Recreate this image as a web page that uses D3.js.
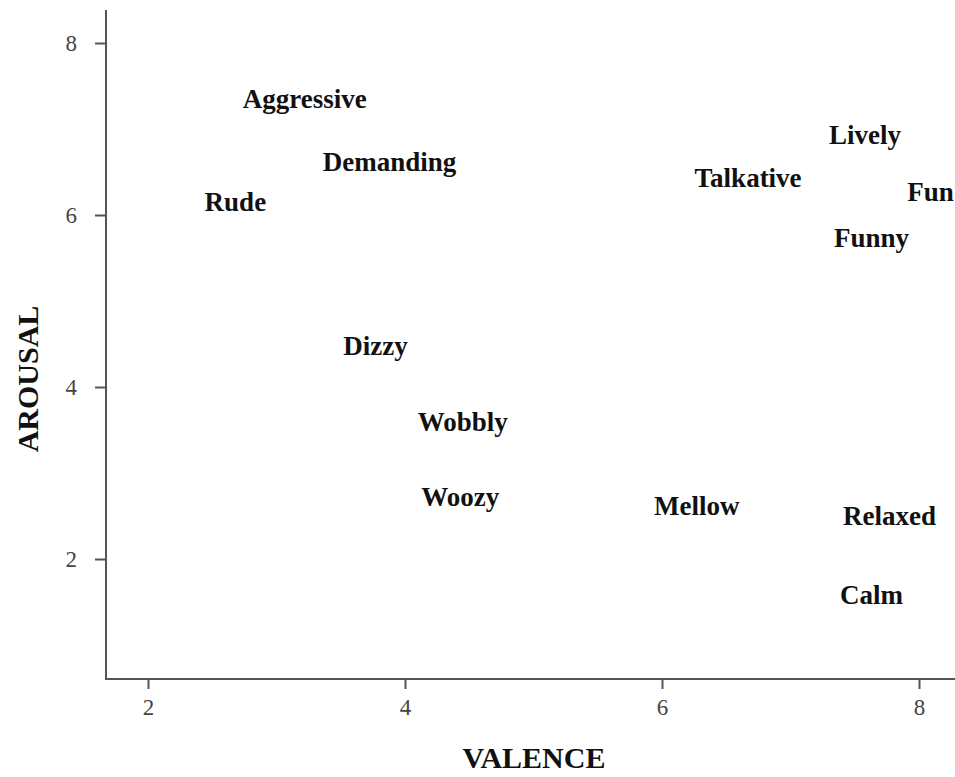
<!DOCTYPE html>
<html>
<head>
<meta charset="utf-8">
<script src="https://cdn.jsdelivr.net/npm/d3@7"></script>
<style>
  body { margin: 0; background: #fff; }
  text { font-family: "Liberation Serif", "Times New Roman", serif; }
</style>
</head>
<body>
<svg></svg>
<script>
const words = ['Aggressive', 'Demanding', 'Rude', 'Talkative', 'Lively', 'Fun', 'Funny',
  'Dizzy', 'Wobbly', 'Woozy', 'Mellow', 'Relaxed', 'Calm']
const valence = [3.22, 3.88, 2.68, 6.67, 7.58, 8.09, 7.63, 3.77, 4.45, 4.43, 6.27, 7.77, 7.63]
const arousal = [7.35, 6.62, 6.16, 6.44, 6.94, 6.27, 5.74, 4.48, 3.60, 2.73, 2.62, 2.50, 1.59]
const xTicks = [2, 4, 6, 8]
const yTicks = [2, 4, 6, 8]

const width = 955
const height = 777
const svg = d3.select('svg')
  .attr('width', width)
  .attr('height', height)

const x = d3.scaleLinear()
  .domain([2, 8])
  .range([148, 919])

const y = d3.scaleLinear()
  .domain([2, 8])
  .range([559, 43])

const axisColor = '#555'

// y axis
const yAxis = svg.append('g')
  .attr('transform', 'translate(106,0)')
  .call(d3.axisLeft(y).tickValues(yTicks).tickSize(11).tickPadding(18).tickFormat(d3.format('d')))
yAxis.select('.domain').remove()
yAxis.append('line')
  .attr('x1', 0).attr('x2', 0)
  .attr('y1', 10).attr('y2', 680)
  .attr('stroke', axisColor).attr('stroke-width', 2)

// x axis
const xAxis = svg.append('g')
  .attr('transform', 'translate(0,679)')
  .call(d3.axisBottom(x).tickValues(xTicks).tickSize(10).tickPadding(10).tickFormat(d3.format('d')))
xAxis.select('.domain').remove()
xAxis.append('line')
  .attr('x1', 105).attr('x2', width)
  .attr('y1', 0).attr('y2', 0)
  .attr('stroke', axisColor).attr('stroke-width', 2)

svg.selectAll('.tick line')
  .attr('stroke', axisColor).attr('stroke-width', 2)
svg.selectAll('.tick text')
  .attr('fill', '#444')
  .style('font-size', '23px')
  .style('font-family', '"Liberation Serif", serif')

// words
svg.selectAll('text.word')
  .data(words)
  .enter()
  .append('text')
  .attr('class', 'word')
  .attr('x', (d, i) => x(valence[i]))
  .attr('y', (d, i) => y(arousal[i]))
  .attr('dy', '0.35em')
  .attr('text-anchor', 'middle')
  .style('font-size', '27px')
  .style('font-weight', 'bold')
  .attr('fill', '#111')
  .text(d => d)

// axis titles
svg.append('text')
  .attr('x', 534)
  .attr('y', 768)
  .attr('text-anchor', 'middle')
  .style('font-size', '30px')
  .style('font-weight', 'bold')
  .attr('fill', '#111')
  .text('VALENCE')

svg.append('text')
  .attr('transform', 'translate(38,379) rotate(-90)')
  .attr('text-anchor', 'middle')
  .style('font-size', '30px')
  .style('font-weight', 'bold')
  .attr('fill', '#111')
  .text('AROUSAL')
</script>
</body>
</html>
